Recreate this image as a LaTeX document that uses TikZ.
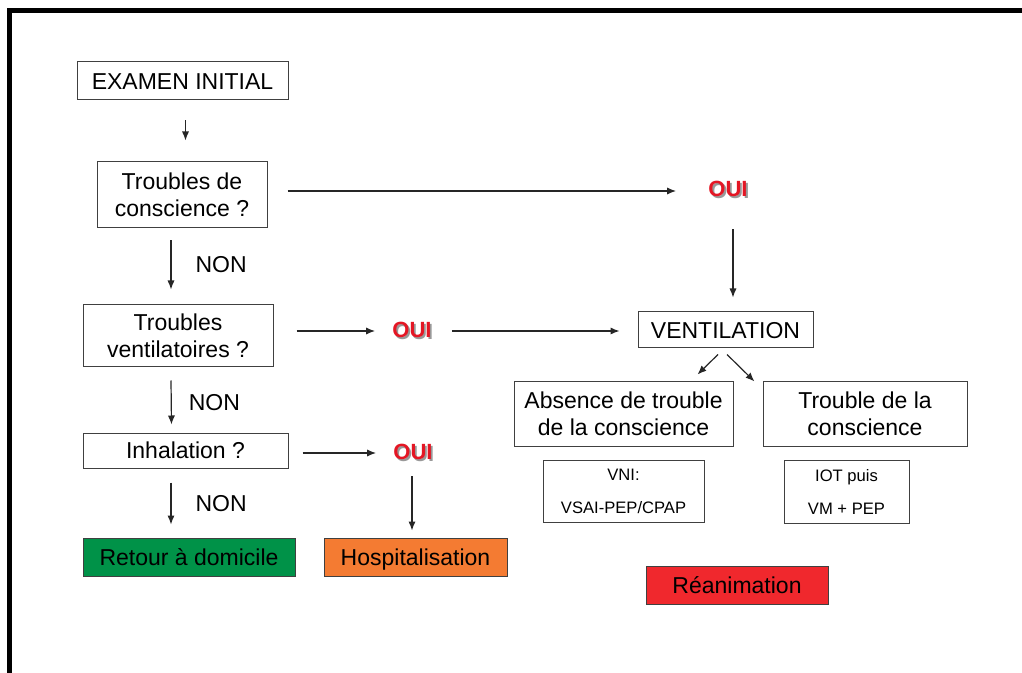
\documentclass[tikz,border=0pt]{standalone}
\usepackage{fontspec}
\setmainfont{Liberation Sans}
\usetikzlibrary{arrows.meta}

\definecolor{retourgreen}{RGB}{0,146,72}
\definecolor{hospiorange}{RGB}{244,123,50}
\definecolor{reared}{RGB}{240,40,45}
\definecolor{ouired}{RGB}{228,22,36}

% red OUI with its grey shadow
\newcommand{\ouiword}{\makebox[0pt][l]{\hspace{0.9pt}\raisebox{-0.9pt}{\color{black!40}OUI}}OUI}

\tikzset{
  box/.style={draw=black!75, line width=0.5pt, inner sep=0pt, align=center,
    font=\fontsize{11.5}{13.5}\selectfont},
  oneline/.style={box, text height=10.5pt, text depth=2.3pt},
  smallbox/.style={box, font=\fontsize{8.3}{16.5}\selectfont},
  oui/.style={inner sep=0pt, text=ouired, font=\fontsize{11}{13}\selectfont\bfseries},
  non/.style={inner sep=0pt, font=\fontsize{11.5}{13.5}\selectfont},
  arr/.style={-{Latex[length=4.5pt,width=3.6pt]}, line width=0.6pt, draw=black!85},
}

\begin{document}
\begin{tikzpicture}[x=0.5pt,y=-0.5pt]
    \useasboundingbox (0,0) rectangle (1022,673);
    \draw[line width=2.5pt] (9.5,673) -- (9.5,10.5) -- (1022,10.5);

    % left column
    \node[oneline, minimum width=105.5pt, minimum height=19pt] (exam) at (182.5,81) {EXAMEN INITIAL};
    \node[box, minimum width=85pt, minimum height=33pt] (tc) at (182,195) {Troubles de\\conscience ?};
    \node[box, minimum width=95pt, minimum height=31pt] (tv) at (178,336) {Troubles\\ventilatoires ?};
    \node[oneline, minimum width=102.5pt, minimum height=17.5pt] (inh) at (185.5,450.5) {Inhalation ?};
    \node[oneline, fill=retourgreen, minimum width=106pt, minimum height=19pt] (ret) at (189,557) {Retour à domicile};
    \node[oneline, fill=hospiorange, minimum width=91.5pt, minimum height=19pt] (hosp) at (415.5,557) {Hospitalisation};

    \node[oui] (oui1) at (728,190) {\ouiword};
    \node[oui] (oui2) at (412,331) {\ouiword};
    \node[oui] (oui3) at (413,453) {\ouiword};

    % right column
    \node[oneline, minimum width=87.5pt, minimum height=18pt] (vent) at (725.5,330) {VENTILATION};
    \node[box, minimum width=109.5pt, minimum height=32pt] (abs) at (623.5,414) {Absence de trouble\\de la conscience};
    \node[box, minimum width=102pt, minimum height=32pt] (trc) at (865,414) {Trouble de la\\conscience};
    \node[smallbox, minimum width=80.5pt, minimum height=31pt] (vni) at (623.5,491) {VNI:\\VSAI-PEP/CPAP};
    \node[smallbox, minimum width=62.5pt, minimum height=31.5pt] (iot) at (846.5,491.5) {IOT puis\\VM + PEP};
    \node[oneline, fill=reared, minimum width=91pt, minimum height=19pt] (rea) at (737,585) {Réanimation};

    \draw[arr] ([shift={(3,20)}]exam.south) -- ([shift={(3.5,-21)}]tc.north);
    \draw[arr] ([shift={(20,-4)}]tc.east) -- ([shift={(-32,1)}]oui1.west);
    \draw[arr] ([shift={(5,30)}]oui1.south) -- ([shift={(7.5,-14)}]vent.north);
    \draw[arr] ([shift={(-11,12)}]tc.south) -- ([shift={(-7,-15)}]tv.north) node[non, midway, right=12pt] {NON};
    \draw[arr] ([shift={(23,-5)}]tv.east) -- ([shift={(-17,0)}]oui2.west);
    \draw[arr] ([shift={(20,0)}]oui2.east) -- ([shift={(-18,1)}]vent.west);
    \draw[arr] ([shift={(-7.5,6)}]vent.south) -- ([shift={(-36,-7)}]abs.north east);
    \draw[arr] ([shift={(1.5,6)}]vent.south) -- ([shift={(-8,0)}]trc.north west);
    \draw[arr] ([shift={(-7,13)}]tv.south) -- ([shift={(-14,-8)}]inh.north) node[non, midway, right=8.5pt] {NON};
    \draw[arr] ([shift={(14,2.5)}]inh.east) -- ([shift={(-17,0)}]oui3.west);
    \draw[arr] ([shift={(-1,14)}]oui3.south) -- ([shift={(-3.5,-7)}]hosp.north);
    \draw[arr] ([shift={(-14.5,14)}]inh.south) -- ([shift={(-18,-13)}]ret.north) node[non, midway, right=12pt] {NON};
\end{tikzpicture}
\end{document}
